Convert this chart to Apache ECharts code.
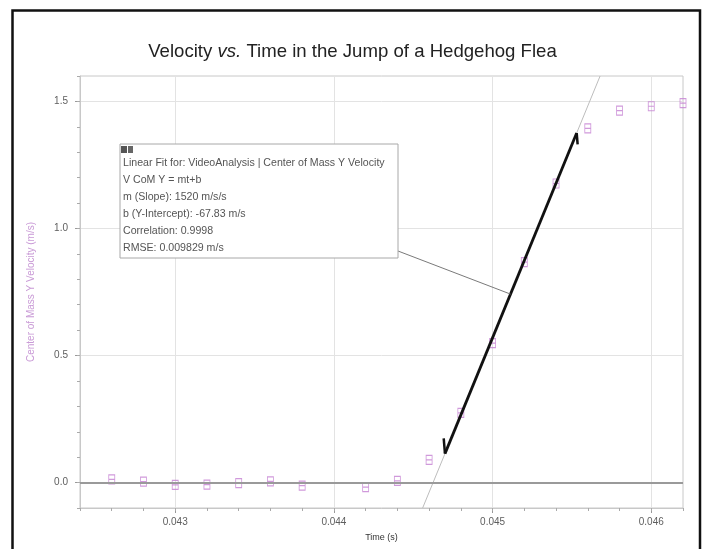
<!DOCTYPE html>
<html>
<head>
<meta charset="utf-8">
<script src="https://cdn.jsdelivr.net/npm/echarts@6/dist/echarts.min.js"></script>
<style>
  html, body { margin: 0; padding: 0; background: #fff; }
  #chart { width: 705px; height: 549px; }
</style>
</head>
<body>
<div id="chart"></div>
<script>
// Center-of-mass vertical velocity samples from the video analysis
const times = [0.0426, 0.0428, 0.0430, 0.0432, 0.0434, 0.0436, 0.0438, 0.0442, 0.0444,
               0.0446, 0.0448, 0.0450, 0.0452, 0.0454, 0.0456, 0.0458, 0.0460, 0.0462];
const velocities = [0.013, 0.004, -0.009, -0.008, -0.002, 0.005, -0.012, -0.018, 0.007,
                    0.089, 0.274, 0.549, 0.868, 1.177, 1.394, 1.464, 1.481, 1.493];

// Linear fit over the take-off phase
const fitSlope = 1520;
const fitIntercept = -67.83;
const fitRange = [0.04470, 0.04553];
const fitNoteTime = 0.045113;
const fitLines = [
  'Linear Fit for: VideoAnalysis | Center of Mass Y Velocity',
  'V CoM Y = mt+b',
  'm (Slope): 1520 m/s/s',
  'b (Y-Intercept): -67.83 m/s',
  'Correlation: 0.9998',
  'RMSE: 0.009829 m/s'
];

// Axis extents and ticks
const timeExtent = [0.0424, 0.0462];
const velocityExtent = [-0.1, 1.6];
const timeTicks = [0.043, 0.044, 0.045, 0.046];
const velocityTicks = [0.0, 0.5, 1.0, 1.5];

const FONT = 'Liberation Sans, Arial, sans-serif';
const fitAt = t => fitSlope * t + fitIntercept;
const timeAt = v => (v - fitIntercept) / fitSlope;

const chart = echarts.init(document.getElementById('chart'), null, { renderer: 'canvas' });

const majorAxisBase = {
  axisLine: { onZero: false, lineStyle: { color: '#c8c8c8' } },
  splitLine: { show: true, lineStyle: { color: '#e3e3e3', width: 1 } }
};

const option = {
  backgroundColor: '#ffffff',
  animation: false,
  textStyle: { fontFamily: FONT },
  title: {
    left: 'center',
    top: 37,
    text: '{n|Velocity }{i|vs.}{n| Time in the Jump of a Hedgehog Flea}',
    textStyle: {
      fontWeight: 'normal',
      rich: {
        n: { fontSize: 18.6, color: '#222', fontFamily: FONT, fontWeight: 'normal' },
        i: { fontSize: 18.6, color: '#222', fontFamily: FONT, fontWeight: 'normal', fontStyle: 'italic' }
      }
    }
  },
  grid: {
    left: 80, right: 22, top: 76, bottom: 41,
    show: true, borderColor: '#c8c8c8', borderWidth: 1, backgroundColor: '#fff'
  },
  xAxis: [
    Object.assign({}, majorAxisBase, {
      type: 'value', position: 'bottom',
      min: timeExtent[0], max: timeExtent[1],
      axisTick: { customValues: timeTicks, length: 5, lineStyle: { color: '#999' } },
      axisLabel: {
        customValues: timeTicks, formatter: v => v.toFixed(3),
        color: '#5e5e5e', fontSize: 10, margin: 9, fontFamily: FONT
      },
      name: 'Time (s)', nameLocation: 'middle', nameGap: 25,
      nameTextStyle: { fontSize: 9, color: '#333', fontFamily: FONT }
    }),
    {
      type: 'value', position: 'bottom',
      min: timeExtent[0], max: timeExtent[1], interval: 0.0002,
      axisLine: { show: false, onZero: false },
      axisTick: { length: 3, lineStyle: { color: '#aaa' } },
      axisLabel: { show: false }, splitLine: { show: false }
    }
  ],
  yAxis: [
    Object.assign({}, majorAxisBase, {
      type: 'value', position: 'left',
      min: velocityExtent[0], max: velocityExtent[1],
      axisTick: { customValues: velocityTicks, length: 5, lineStyle: { color: '#999' } },
      axisLabel: {
        customValues: velocityTicks, formatter: v => v.toFixed(1),
        color: '#5e5e5e', fontSize: 10, margin: 12, fontFamily: FONT
      },
      name: 'Center of Mass Y Velocity (m/s)', nameLocation: 'middle', nameGap: 44,
      nameTextStyle: { fontSize: 10, color: '#c99ad6', fontFamily: FONT }
    }),
    {
      type: 'value', position: 'left',
      min: velocityExtent[0], max: velocityExtent[1], interval: 0.1,
      axisLine: { show: false, onZero: false },
      axisTick: { length: 3, lineStyle: { color: '#aaa' } },
      axisLabel: { show: false }, splitLine: { show: false }
    }
  ],
  series: [
    {
      name: 'samples',
      type: 'scatter',
      xAxisIndex: 0, yAxisIndex: 0,
      data: times.map((t, i) => [t, velocities[i]]),
      symbol: 'path://M0,0H7V10H0ZM0,5H7',
      symbolSize: [6, 9],
      itemStyle: { color: 'rgba(255,255,255,0)', borderColor: '#c47fd2', borderWidth: 1 },
      z: 2,
      markLine: {
        silent: true, symbol: 'none', animation: false,
        label: { show: false },
        lineStyle: { color: '#9a9a9a', width: 2, type: 'solid' },
        data: [{ yAxis: 0 }]
      }
    },
    {
      name: 'fit-extended',
      type: 'line',
      xAxisIndex: 0, yAxisIndex: 0,
      data: [[timeAt(velocityExtent[0]), velocityExtent[0]], [timeAt(velocityExtent[1]), velocityExtent[1]]],
      showSymbol: false, clip: true,
      lineStyle: { color: '#bdbdbd', width: 1 },
      z: 3
    },
    {
      name: 'fit-selected',
      type: 'line',
      xAxisIndex: 0, yAxisIndex: 0,
      data: fitRange.map(t => [t, fitAt(t)]),
      showSymbol: false,
      lineStyle: { color: '#111', width: 2.8 },
      z: 4
    },
    {
      name: 'range-start',
      type: 'line',
      xAxisIndex: 0, yAxisIndex: 0,
      data: [[fitRange[0], fitAt(fitRange[0])], [fitRange[0] - 0.000008, fitAt(fitRange[0]) + 0.06]],
      showSymbol: false,
      lineStyle: { color: '#111', width: 2.5 },
      z: 4
    },
    {
      name: 'range-end',
      type: 'line',
      xAxisIndex: 0, yAxisIndex: 0,
      data: [[fitRange[1], fitAt(fitRange[1])], [fitRange[1] + 0.000006, fitAt(fitRange[1]) - 0.045]],
      showSymbol: false,
      lineStyle: { color: '#111', width: 2.5 },
      z: 4
    }
  ]
};

chart.setOption(option);

// Fit annotation box with a leader to the regression line
const box = { x: 120, y: 144, w: 278, h: 114 };
const anchor = chart.convertToPixel({ xAxisIndex: 0, yAxisIndex: 0 }, [fitNoteTime, fitAt(fitNoteTime)]);

chart.setOption({
  graphic: [
    {
      type: 'polyline', silent: true, z: 100,
      shape: { points: [[12.5, 549], [12.5, 10.5], [700, 10.5], [700, 549]] },
      style: { stroke: '#111', lineWidth: 2.5, fill: null }
    },
    {
      type: 'line', silent: true, z: 90,
      shape: { x1: box.x + box.w, y1: box.y + 107, x2: anchor[0], y2: anchor[1] },
      style: { stroke: '#7a7a7a', lineWidth: 1 }
    },
    {
      type: 'rect', silent: true, z: 91,
      shape: { x: box.x, y: box.y, width: box.w, height: box.h },
      style: { fill: '#fff', stroke: '#a8a8a8', lineWidth: 1 }
    },
    {
      type: 'rect', silent: true, z: 92,
      shape: { x: box.x + 1, y: box.y + 2, width: 6, height: 7 },
      style: { fill: '#555' }
    },
    {
      type: 'rect', silent: true, z: 92,
      shape: { x: box.x + 8, y: box.y + 2, width: 5, height: 7 },
      style: { fill: '#666' }
    },
    {
      type: 'text', silent: true, z: 92,
      x: box.x + 3, y: box.y + 11,
      style: {
        text: fitLines.join('\n'),
        fontSize: 10.6, lineHeight: 17, fill: '#555', fontFamily: FONT
      }
    }
  ]
});
</script>
</body>
</html>
